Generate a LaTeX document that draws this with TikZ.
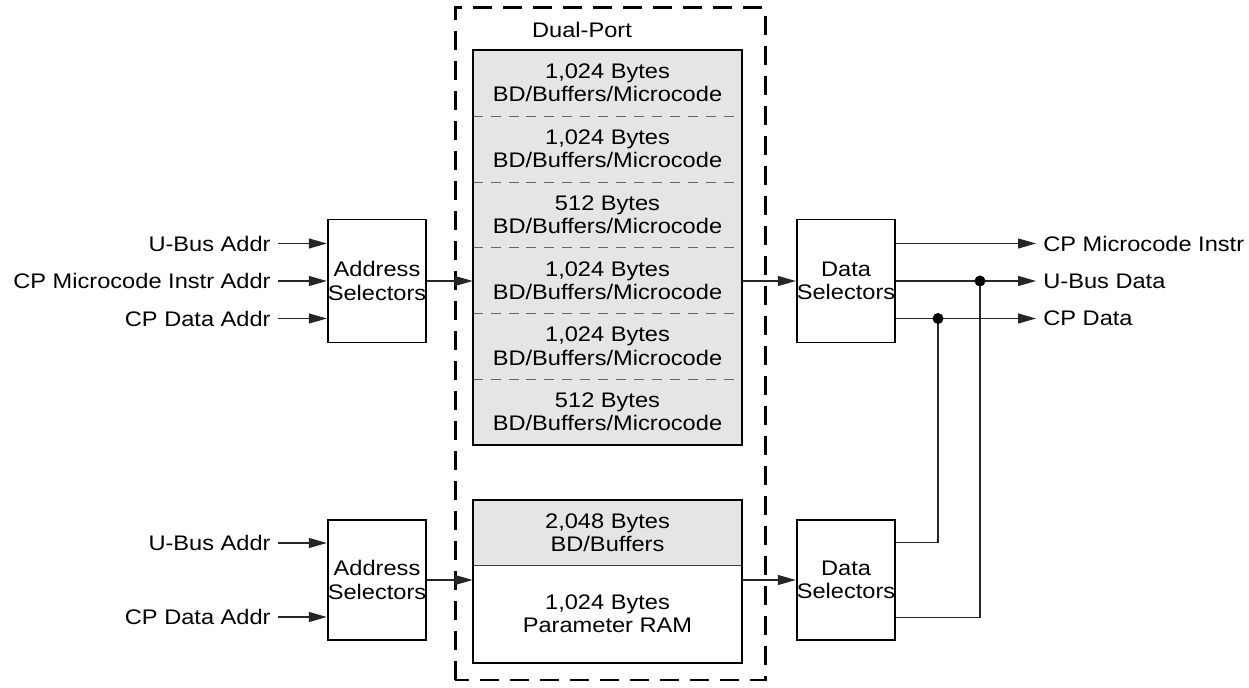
\documentclass[tikz,border=0pt]{standalone}
\usepackage{fontspec}
\setmainfont{Liberation Sans}[FakeStretch=1.12]
\usetikzlibrary{arrows.meta}

\begin{document}
\begin{tikzpicture}[line join=miter,>={Triangle[length=3.6mm,width=2mm]},
  every node/.style={inner sep=1pt,font=\fontsize{12}{13.2}\selectfont,align=center},
  sel/.style={draw,line width=1.1pt,minimum width=1.96cm,minimum height=2.46cm,inner sep=0pt},
  bank/.style={fill=black!10,minimum width=5.38cm,inner sep=0pt},
  wire/.style={line width=0.65pt,black!85},
  lblin/.style={anchor=east,inner xsep=4pt},
  lblout/.style={anchor=west,inner xsep=4pt}]
  \def\dy{0.75}
  \def\rowh{1.3167}
  \useasboundingbox (0,0) rectangle (24.98,13.74);
  % dual-port frame
  \draw[line width=1.7pt,dash pattern=on 0.38cm off 0.22cm] (9.10,0.14) rectangle (15.30,13.58);
  \node (dp) at (11.64,13.14) {Dual-Port};
  % upper bank
  \foreach \i/\sz in {1/{1,024},2/{1,024},3/512,4/{1,024},5/{1,024},6/512}
    \node[bank,minimum height=\rowh cm] (m\i) at (12.15,{12.74-(\i-0.5)*\rowh}) {\sz\ Bytes\\BD/Buffers/Microcode};
  \foreach \i in {1,...,5}
    \draw[black!60,line width=0.5pt,dash pattern=on 5.7pt off 4.5pt] (m\i.south west) -- (m\i.south east);
  \draw[line width=1.1pt] (m1.north west) rectangle (m6.south east);
  % lower bank
  \node[bank,minimum height=1.3cm] (b1) at (12.15,3.09) {2,048 Bytes\\BD/Buffers};
  \node[bank,fill=white,minimum height=1.96cm] (b2) at (12.15,1.46) {1,024 Bytes\\Parameter RAM};
  \draw[line width=0.9pt,black!75] (b1.south west) -- (b1.south east);
  \draw[line width=1.1pt] (b1.north west) rectangle (b2.south east);
  % selectors
  \node[sel] (adrA) at (7.54,8.12) {Address\\Selectors};
  \node[sel,minimum height=2.4cm] (adrB) at (7.54,2.14) {Address\\Selectors};
  \node[sel] (datA) at (16.92,8.12) {Data\\Selectors};
  \node[sel,minimum height=2.4cm] (datB) at (16.92,2.14) {Data\\Selectors};
  % inputs
  \node[lblin] (ubA) at (5.56,8.87) {U-Bus Addr};
  \node[lblin] (miA) at (5.56,8.12) {CP Microcode Instr Addr};
  \node[lblin] (cdA) at (5.56,7.37) {CP Data Addr};
  \node[lblin] (ubB) at (5.56,2.88) {U-Bus Addr};
  \node[lblin] (cdB) at (5.56,1.40) {CP Data Addr};
  \foreach \l in {ubA,miA,cdA}
    \draw[wire,->] (\l.east) -- (adrA.west |- \l);
  \foreach \l in {ubB,cdB}
    \draw[wire,->] (\l.east) -- (adrB.west |- \l);
  % through the banks
  \draw[wire,->] (adrA.east) -- (m4.west |- adrA);
  \draw[wire,->] (m4.east |- datA) -- (datA.west);
  \draw[wire,->] (adrB.east) -- (b2.west |- adrB);
  \draw[wire,->] (b2.east |- datB) -- (datB.west);
  % outputs
  \node[lblout] (cmO) at (20.72,8.87) {CP Microcode Instr};
  \node[lblout] (ubO) at (20.72,8.12) {U-Bus Data};
  \node[lblout] (cpO) at (20.72,7.37) {CP Data};
  \foreach \l in {cmO,ubO,cpO}
    \draw[wire,->] (datA.east |- \l) -- (\l.west);
  % lower data selectors join the outputs
  \coordinate (jub) at (19.60,8.12);
  \coordinate (jcp) at (18.76,7.37);
  \draw[wire] ([yshift=\dy cm]datB.east) -| (jcp);
  \draw[wire] ([yshift=-\dy cm]datB.east) -| (jub);
  \fill (jub) circle (0.11);
  \fill (jcp) circle (0.11);
\end{tikzpicture}
\end{document}
